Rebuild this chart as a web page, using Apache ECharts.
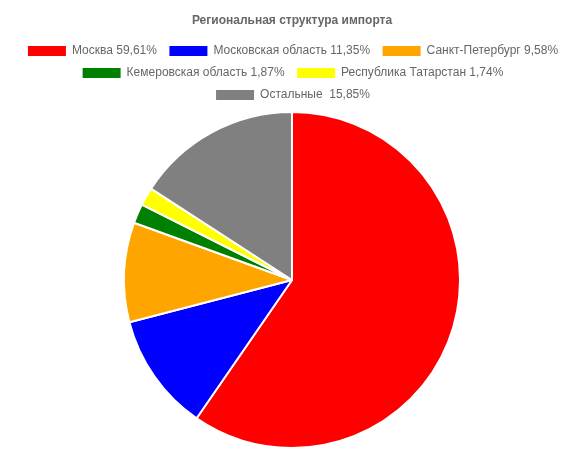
<!DOCTYPE html>
<html><head><meta charset="utf-8">
<script src="https://cdn.jsdelivr.net/npm/echarts@6/dist/echarts.min.js"></script>
<style>html,body{margin:0;padding:0;background:#fff}#c{width:584px;height:450px}</style>
</head><body><div id="c"></div>
<script>
const titleText = 'Региональная структура импорта';
const categories = ['Москва 59,61%', 'Московская область 11,35%', 'Санкт-Петербург 9,58%', 'Кемеровская область 1,87%', 'Республика Татарстан 1,74%', 'Остальные  15,85%'];
const values = [59.61, 11.35, 9.58, 1.87, 1.74, 15.85];
const colors = ['#ff0000', '#0000ff', '#ffa500', '#008000', '#ffff00', '#808080'];
const legendRows = [[0, 1, 2], [3, 4], [5]];

const legendBase = {
  left: 'center', padding: 0, itemWidth: 40, itemHeight: 12, itemGap: 10.5, icon: 'rect',
  textStyle: { fontFamily: 'Liberation Sans, Arial', fontSize: 12, color: '#666' }
};
const rowTops = [44, 66, 88];

const chart = echarts.init(document.getElementById('c'));
chart.setOption({
  animation: false,
  color: colors,
  title: {
    text: titleText, left: 'center', top: 10,
    textStyle: { fontFamily: 'Liberation Sans, Arial', fontSize: 12, fontWeight: 'bold', color: '#666' }
  },
  legend: legendRows.map((row, r) => Object.assign({}, legendBase, {
    top: rowTops[r], data: row.map(i => categories[i])
  })),
  series: [{
    type: 'pie', center: [292, 280], radius: 168,
    label: { show: false }, labelLine: { show: false },
    itemStyle: { borderColor: '#fff', borderWidth: 2 },
    data: categories.map((n, i) => ({ name: n, value: values[i] }))
  }]
});
</script></body></html>
